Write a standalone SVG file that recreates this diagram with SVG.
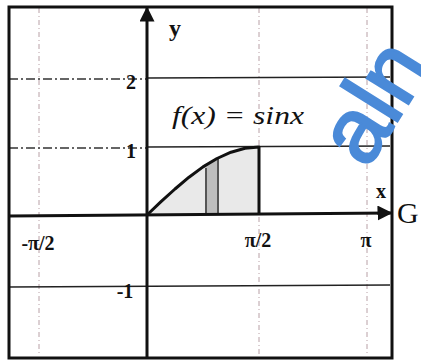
<svg xmlns="http://www.w3.org/2000/svg" width="421" height="363" viewBox="0 0 421 363">
<style>
.lbl{font-family:"Liberation Serif","DejaVu Serif",serif;font-weight:bold;fill:#111}
.faint{stroke:#b8a0a6;stroke-width:1;stroke-dasharray:5 3 1 3;fill:none}
.grid{stroke:#222;stroke-width:1.6;fill:none}
.gridl{stroke:#333;stroke-width:1.4;fill:none;stroke-dasharray:9 3 2 3}
.ax{stroke:#111;stroke-width:3;fill:none}
</style>
<defs>
<marker id="arr" viewBox="0 0 10 10" refX="9" refY="5" markerWidth="5" markerHeight="5" markerUnits="strokeWidth" orient="auto">
<path d="M0,0 L10,5 L0,10 z" fill="#111"/>
</marker>
</defs>
<rect width="421" height="363" fill="#fff"/>
<g id="grid">
<line class="faint" x1="39" y1="8" x2="39" y2="356"/>
<line class="faint" x1="259" y1="8" x2="259" y2="146"/>
<line class="faint" x1="259" y1="217" x2="259" y2="356"/>
<line class="faint" x1="367" y1="8" x2="367" y2="356"/>
<line class="gridl" x1="9" y1="79" x2="147" y2="79"/>
<line class="grid" x1="147" y1="78" x2="390" y2="77"/>
<line class="gridl" x1="9" y1="148" x2="147" y2="148"/>
<line class="grid" x1="147" y1="147" x2="390" y2="146"/>
<line class="grid" x1="9" y1="287" x2="390" y2="285"/>
</g>
<g id="area">
<path d="M147,215 L161,201.7 L175,189 L189,177.2 L203,166.9 L217,158.5 L231,152.2 L245,148.3 L259,147 L259,215 Z" fill="#e9e9e9"/>
<path d="M205,168 L219,158 L219,215 L205,215 Z" fill="#bdbdbd"/>
<line x1="206" y1="168" x2="206" y2="215" stroke="#555" stroke-width="2"/>
<line x1="218" y1="159" x2="218" y2="215" stroke="#555" stroke-width="2"/>
</g>
<g id="curve">
<path d="M147,215 L161,201.7 L175,189 L189,177.2 L203,166.9 L217,158.5 L231,152.2 L245,148.3 L259,147 L259,215" fill="none" stroke="#111" stroke-width="3" stroke-linejoin="round"/>
</g>
<g id="frame">
<rect x="9" y="7" width="383" height="351" fill="none" stroke="#111" stroke-width="3"/>
</g>
<g id="axes">
<line class="ax" x1="147" y1="358" x2="147" y2="8" marker-end="url(#arr)"/>
<line class="ax" x1="9" y1="216" x2="391" y2="213" marker-end="url(#arr)"/>
</g>
<g id="labels">
<text class="lbl" x="175" y="36" font-size="24" text-anchor="middle">y</text>
<text class="lbl" x="381" y="198" font-size="20" text-anchor="middle">x</text>
<text class="lbl" x="131" y="89" font-size="20" text-anchor="middle">2</text>
<text class="lbl" x="131" y="158" font-size="20" text-anchor="middle">1</text>
<text class="lbl" x="125" y="298" font-size="20" text-anchor="middle">-1</text>
<text class="lbl" x="38" y="250" font-size="20" text-anchor="middle">-π/2</text>
<text class="lbl" x="258" y="247" font-size="20" text-anchor="middle">π/2</text>
<text class="lbl" x="366" y="247" font-size="20" text-anchor="middle">π</text>
<text x="172" y="124" font-size="26" font-style="italic" font-family="Liberation Serif, serif" fill="#111" textLength="132" lengthAdjust="spacingAndGlyphs">f(x) = sinx</text>
<text x="397" y="223" font-size="30" font-family="Liberation Serif, serif" fill="#111">G</text>
</g>
<g id="watermark">
<text transform="translate(367,170) rotate(-58)" font-size="92" font-family="Liberation Sans, sans-serif" fill="#4a8ad8" stroke="#4a8ad8" stroke-width="2.5">aln</text>
</g>
</svg>
